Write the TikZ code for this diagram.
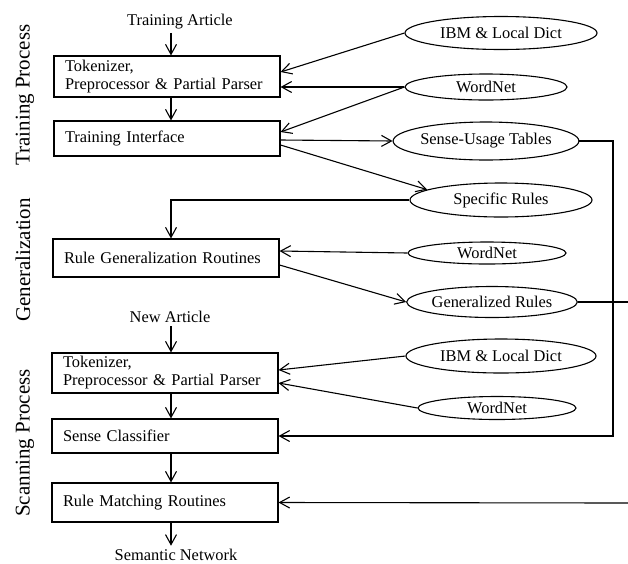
\documentclass[tikz,border=0pt]{standalone}
\usepackage{fontspec}
\setmainfont{Liberation Serif}
\usetikzlibrary{shapes.geometric}
\usetikzlibrary{arrows.meta}
\usetikzlibrary{calc}

\begin{document}
\begin{tikzpicture}[x=1pt, y=-1pt,
        procbox/.style={draw, line width=1.1pt, minimum width=226pt, text width=204pt,
            inner xsep=11pt, inner ysep=2pt, align=left, font=\fontsize{16.4}{18}\selectfont},
        store/.style={draw, ellipse, line width=1.1pt, inner sep=0pt, font=\fontsize{16.4}{18}\selectfont},
        io/.style={font=\fontsize{16.4}{18}\selectfont},
        phase/.style={rotate=90, font=\fontsize{21}{24}\selectfont},
        flow/.style={-{Straight Barb[length=10pt,width=11pt]}, line width=1.1pt},
        wire/.style={line width=1.1pt}]
        \useasboundingbox (0,0) rectangle (628,563);
        \coordinate (mid) at (171,0);
        \coordinate (rail) at (613,0);
        \coordinate (genout) at (628,302);
        \coordinate (matchin) at (628,503);

        \node[phase] (trainph) at (25,95) {Training Process};
        \node[phase] (genph) at (23,260) {Generalization};
        \node[phase] (scanph) at (25,443) {Scanning Process};

        \node[io] (artin) at (180,22) {Training Article};
        \node[procbox, minimum height=41pt] (tok1) at (167,76.5) {Tokenizer,\\Preprocessor \& Partial Parser};
        \node[procbox, minimum height=35pt] (train) at (167,138.5) {Training Interface};
        \node[procbox, minimum height=38pt] (rulegen) at (166,258) {Rule Generalization Routines};
        \node[io] (newart) at (170,317) {New Article};
        \node[procbox, minimum height=40pt] (tok2) at (165,373) {Tokenizer,\\Preprocessor \& Partial Parser};
        \node[procbox, minimum height=34pt] (classif) at (165,436) {Sense Classifier};
        \node[procbox, minimum height=39pt] (rulematch) at (165,502.5) {Rule Matching Routines};
        \node[io] (semnet) at (176,555) {Semantic Network};

        \node[store, minimum width=192pt, minimum height=33pt] (dict1) at (501,33) {IBM \& Local Dict};
        \node[store, minimum width=162pt, minimum height=26pt] (wn1) at (486,87) {WordNet};
        \node[store, minimum width=183pt, minimum height=38pt] (sut) at (486,141) {Sense-Usage Tables};
        \node[store, minimum width=182pt, minimum height=34pt] (spec) at (501,200) {Specific Rules};
        \node[store, minimum width=158pt, minimum height=22pt] (wn2) at (487,253) {WordNet};
        \node[store, minimum width=169pt, minimum height=31pt] (genr) at (492,302) {Generalized Rules};
        \node[store, minimum width=190pt, minimum height=34pt] (dict2) at (501,356) {IBM \& Local Dict};
        \node[store, minimum width=158pt, minimum height=23pt] (wn3) at (497,408) {WordNet};

        \draw[flow] (artin.south -| mid) -- (tok1.north -| mid);
        \draw[flow] (tok1.south -| mid) -- (train.north -| mid);
        \draw[flow] (newart.south -| mid) -- (tok2.north -| mid);
        \draw[flow] (tok2.south -| mid) -- (classif.north -| mid);
        \draw[flow] (classif.south -| mid) -- (rulematch.north -| mid);
        \draw[flow] (rulematch.south -| mid) -- (semnet.north -| mid);

        \draw[flow] (dict1.west) -- ([yshift=4.5pt]tok1.east);
        \draw[flow] (wn1.west) -- ([yshift=-10.5pt]tok1.east);
        \draw[flow] (wn1.west) -- ([yshift=6.5pt]train.east);
        \draw[flow] ([yshift=-1.5pt]train.east) -- (sut.west);
        \draw[flow] ([yshift=-6.5pt]train.east) -- (spec.172);
        \draw[flow] (spec.west) -| (rulegen.north -| mid);
        \draw[flow] (wn2.west) -- ([yshift=7pt]rulegen.east);
        \draw[flow] ([yshift=-7pt]rulegen.east) -- (genr.west);
        \draw[flow] (dict2.west) -- ([yshift=3pt]tok2.east);
        \draw[flow] (wn3.west) -- ([yshift=-10pt]tok2.east);
        \draw[flow] (sut.east) -- (sut.east -| rail) |- (classif.east);
        \draw[wire] (genr.east) -- (genout);
        \draw[flow] (matchin) -- (rulematch.east);

    \end{tikzpicture}
\end{document}
